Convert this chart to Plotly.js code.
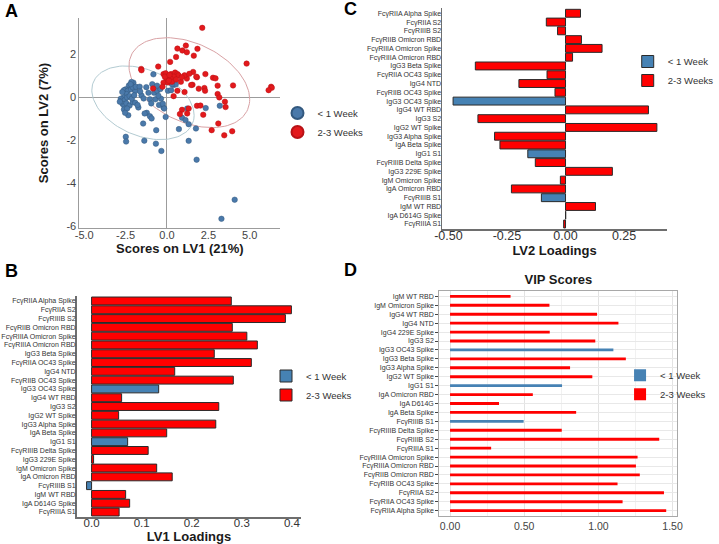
<!DOCTYPE html>
<html><head><meta charset="utf-8">
<script src="https://cdn.plot.ly/plotly-3.0.1.min.js"></script>
<style>html,body{margin:0;padding:0;background:#fff}#chart{width:719px;height:544px}</style>
</head><body><div id="chart"></div>
<script>
// ---------- Panel A: PLS-DA scores ----------
const groupNames = ["< 1 Week", "2-3 Weeks"];
const blueX = [-2.03,-2.15,-2.30,-2.49,-2.60,-2.36,-2.17,-1.92,-2.07,-2.45,-2.64,-2.79,-2.74,-2.55,-2.41,-2.26,-2.68,-2.57,-2.45,-2.26,-2.07,-1.92,-2.60,-2.41,-2.34,-2.53,-1.73,-1.54,-1.88,-1.65,-1.41,-1.12,-0.89,-0.82,-0.78,-0.59,-0.40,-1.03,-0.70,-0.36,-1.22,-1.03,-0.93,-1.44,-0.65,-0.21,-0.08,0.06,0.25,0.40,0.53,1.22,0.91,1.12,1.31,0.72,1.75,1.31,2.34,3.19,-2.49,-2.47,-1.37,-0.67,-0.34,1.79,4.09,3.29,-1.25,-1.62,-1.78,-0.52,-0.48,-0.95,-2.85,-2.70,-2.20,-0.60,0.30,-0.25,-2.12,-1.98,-1.35,-0.17];
const blueY = [0.69,0.72,0.56,0.38,0.34,0.31,0.38,0.30,0.47,0.16,0.00,-0.06,-0.16,-0.13,0.00,0.06,-0.31,-0.39,-0.28,-0.38,-0.22,-0.25,-0.56,-0.52,-0.83,-0.72,-0.47,0.09,0.50,0.50,-0.05,0.22,0.62,1.08,0.22,0.31,0.39,-0.09,-0.09,-0.06,-0.72,-0.88,-0.98,-1.22,-1.53,-0.47,-0.91,0.31,0.34,0.58,0.61,-0.52,-0.95,-1.06,-1.25,-1.48,-1.45,-2.03,-0.50,-0.39,-1.84,-2.06,-2.02,-2.16,-2.50,-2.91,-4.78,-5.67,0.48,0.28,-0.35,0.08,-0.35,-0.28,-0.20,0.25,0.62,0.55,0.62,-0.30,-0.05,0.10,-0.75,-0.52];
const redX = [2.13,4.81,1.14,0.63,0.93,1.20,1.84,1.62,0.55,0.19,-0.53,-1.56,-1.54,1.58,2.32,2.78,2.93,1.81,1.20,1.06,-0.21,-0.08,0.25,0.49,0.63,0.70,0.40,0.21,-0.02,-0.21,0.06,0.30,0.55,0.84,-0.27,-0.84,0.11,-0.13,0.89,1.54,1.92,2.26,2.30,3.06,3.16,3.99,1.06,0.63,0.40,3.50,3.54,1.81,2.02,0.91,0.78,2.19,2.70,3.46,3.94,6.29,6.33,6.14,1.77,1.46,3.06,3.10,1.35,0.15,1.31,1.22];
const redY = [3.25,1.58,2.42,2.28,2.19,2.11,2.27,1.95,1.89,1.66,1.44,1.33,1.27,1.19,1.09,0.92,0.89,0.94,0.88,1.03,1.09,1.13,1.09,1.16,1.09,1.03,0.97,0.89,0.84,0.69,0.70,0.73,0.84,0.73,0.50,0.42,0.78,0.97,0.94,0.59,0.41,0.44,0.31,0.16,0.00,0.56,0.25,0.31,0.06,-0.20,-0.45,-0.39,-0.38,-0.58,-0.78,-0.81,-1.53,-1.77,-1.58,0.50,0.45,0.34,0.97,0.58,0.55,-1.22,1.10,1.05,-0.52,-0.75];
// 95% confidence ellipses (centre and covariance-like spread)
const ellipseBlue = {cx:-1.45, cy:-0.25, sxx:9.55, syy:2.96, sxy:-1.82};
const ellipseRed  = {cx: 1.35, cy: 0.69, sxx:13.3, syy:4.41, sxy:-2.85};

// ---------- Panels B & C: LV loadings ----------
const loadCats = ["FcγRIIA Alpha Spike","FcγRIIA S2","FcγRIIIB S2","FcγRIIB Omicron RBD","FcγRIIIA Omicron Spike","FcγRIIIA Omicron RBD","IgG3 Beta Spike","FcγRIIA OC43 Spike","IgG4 NTD","FcγRIIB OC43 Spike","IgG3 OC43 Spike","IgG4 WT RBD","IgG3 S2","IgG2 WT Spike","IgG3 Alpha Spike","IgA Beta Spike","IgG1 S1","FcγRIIIB Delta Spike","IgG3 229E Spike","IgM Omicron Spike","IgA Omicron RBD","FcγRIIIB S1","IgM WT RBD","IgA D614G Spike","FcγRIIIA S1"];
const lv1 = [0.279,0.399,0.387,0.281,0.310,0.331,0.245,0.319,0.166,0.283,0.134,0.060,0.254,0.054,0.248,0.150,0.072,0.113,0.004,0.130,0.161,-0.010,0.068,0.076,0.055];
const lv2 = [0.064,-0.082,-0.034,0.068,0.156,0.030,-0.385,-0.079,-0.199,-0.045,-0.480,0.354,-0.374,0.390,-0.303,-0.280,-0.161,-0.129,0.200,-0.022,-0.231,-0.103,0.128,0.001,-0.008];
const loadGroup = ["2-3 Weeks","2-3 Weeks","2-3 Weeks","2-3 Weeks","2-3 Weeks","2-3 Weeks","2-3 Weeks","2-3 Weeks","2-3 Weeks","2-3 Weeks","< 1 Week","2-3 Weeks","2-3 Weeks","2-3 Weeks","2-3 Weeks","2-3 Weeks","< 1 Week","2-3 Weeks","2-3 Weeks","2-3 Weeks","2-3 Weeks","< 1 Week","2-3 Weeks","2-3 Weeks","2-3 Weeks"];

// ---------- Panel D: VIP scores ----------
const vipCats = ["IgM WT RBD","IgM Omicron Spike","IgG4 WT RBD","IgG4 NTD","IgG4 229E Spike","IgG3 S2","IgG3 OC43 Spike","IgG3 Beta Spike","IgG3 Alpha Spike","IgG2 WT Spike","IgG1 S1","IgA Omicron RBD","IgA D614G","IgA Beta Spike","FcγRIIIB S1","FcγRIIIB Delta Spike","FcγRIIIB S2","FcγRIIIA S1","FcγRIIIA Omicron Spike","FcγRIIIA Omicron RBD","FcγRIIB Omicron RBD","FcγRIIB OC43 Spike","FcγRIIA S2","FcγRIIA OC43 Spike","FcγRIIA Alpha Spike"];
const vip = [0.408,0.670,0.991,1.135,0.672,0.979,1.101,1.185,0.809,0.959,0.755,0.558,0.330,0.850,0.496,0.753,1.410,0.277,1.264,1.253,1.279,1.129,1.442,1.163,1.457];
const vipGroup = ["2-3 Weeks","2-3 Weeks","2-3 Weeks","2-3 Weeks","2-3 Weeks","2-3 Weeks","< 1 Week","2-3 Weeks","2-3 Weeks","2-3 Weeks","< 1 Week","2-3 Weeks","2-3 Weeks","2-3 Weeks","< 1 Week","2-3 Weeks","2-3 Weeks","2-3 Weeks","2-3 Weeks","2-3 Weeks","2-3 Weeks","2-3 Weeks","2-3 Weeks","2-3 Weeks","2-3 Weeks"];

// ---------- styling ----------
const BLUE = "#4682b4", RED = "#ff0000";
const PT_BLUE = "#4a79aa", PT_RED = "#e3191c";
const W = 719, H = 544;
const px = v => v / W;           // pixel -> paper x
const py = v => 1 - v / H;       // pixel -> paper y
const FONT = "Arial, 'Liberation Sans', sans-serif";

function ellipsePath(p) {
  const a = Math.sqrt(p.sxx), c = p.sxy / a, d = Math.sqrt(p.syy - c * c);
  const xs = [], ys = [];
  for (let i = 0; i <= 120; i++) {
    const t = 2 * Math.PI * i / 120;
    xs.push(p.cx + a * Math.cos(t));
    ys.push(p.cy + c * Math.cos(t) + d * Math.sin(t));
  }
  return {xs, ys};
}
function pick(cats, vals, grp, g) {
  const y = [], x = [];
  cats.forEach((c, i) => { if (grp[i] === g) { y.push(c); x.push(vals[i]); } });
  return {x, y};
}

const eb = ellipsePath(ellipseBlue), er = ellipsePath(ellipseRed);
const traces = [
  {type:"scatter", mode:"lines", x:eb.xs, y:eb.ys, xaxis:"x", yaxis:"y", line:{color:"#b3cbd2", width:1}, showlegend:false, hoverinfo:"skip"},
  {type:"scatter", mode:"lines", x:er.xs, y:er.ys, xaxis:"x", yaxis:"y", line:{color:"#d9a2a5", width:1}, showlegend:false, hoverinfo:"skip"},
  {type:"scatter", mode:"markers", name:groupNames[0], x:blueX, y:blueY, xaxis:"x", yaxis:"y", legend:"legend",
   marker:{color:PT_BLUE, size:5.5, line:{color:"#33597f", width:0.5}}},
  {type:"scatter", mode:"markers", name:groupNames[1], x:redX, y:redY, xaxis:"x", yaxis:"y", legend:"legend",
   marker:{color:PT_RED, size:5.5, line:{color:"#b81216", width:0.5}}}
];
[["x2","y2","legend2",lv1],["x3","y3","legend3",lv2]].forEach(([xa, ya, lg, vals]) => {
  groupNames.forEach((g, k) => {
    const d = pick(loadCats, vals, loadGroup, g);
    traces.push({type:"bar", orientation:"h", name:g, x:d.x, y:d.y, xaxis:xa, yaxis:ya, legend:lg, width:0.9,
      marker:{color:k === 0 ? BLUE : RED, line:{color:"#2a2a2a", width:1}}});
  });
});
groupNames.forEach((g, k) => {
  const d = pick(vipCats, vip, vipGroup, g);
  traces.push({type:"bar", orientation:"h", name:g, x:d.x, y:d.y, xaxis:"x4", yaxis:"y4", legend:"legend4", width:0.32,
    marker:{color:k === 0 ? BLUE : RED, line:{width:0}}});
});

const titleFont = {family:FONT, size:13, color:"#1a1a1a", weight:"bold"};
const catFont = {family:FONT, size:7.0, color:"#333"};
const legFont = {family:FONT, size:9.5, color:"#333"};

const layout = {
  width:W, height:H, margin:{l:0, r:0, t:0, b:0}, paper_bgcolor:"#fff", plot_bgcolor:"rgba(0,0,0,0)",
  font:{family:FONT, color:"#333"}, barmode:"overlay", showlegend:true,
  title:{text:"VIP Scores", font:titleFont, x:px(583.5), y:py(279), xanchor:"center", yanchor:"middle", xref:"paper", yref:"container"},
  // A
  xaxis:{domain:[px(83), px(293)], anchor:"y", range:[-5.29, 6.85], tickmode:"array", tickvals:[-5,-2.5,0,2.5,5], ticktext:["-5.0","-2.5","0.0","2.5","5.0"],
    showgrid:false, zeroline:true, zerolinecolor:"#9c9c9c", zerolinewidth:1, showline:true, linecolor:"#9c9c9c", linewidth:1, ticks:"",
    ticklabelstandoff:-3, tickfont:{size:11, color:"#444"}, title:{text:"Scores on LV1 (21%)", font:titleFont, standoff:3}},
  yaxis:{domain:[py(228), py(18)], anchor:"x", range:[-6.1, 3.71], tickmode:"array", tickvals:[-6,-4,-2,0,2], ticktext:["-6","-4","-2","0","2"],
    showgrid:false, zeroline:true, zerolinecolor:"#9c9c9c", zerolinewidth:1, showline:true, linecolor:"#9c9c9c", linewidth:1, ticks:"",
    tickfont:{size:11, color:"#444"}, title:{text:"Scores on LV2 (7%)", font:titleFont, standoff:14}},
  // B
  xaxis2:{domain:[px(80), px(315)], anchor:"y2", range:[-0.03, 0.419], tickmode:"array", tickvals:[0,0.1,0.2,0.3,0.4], ticktext:["0.0","0.1","0.2","0.3","0.4"],
    showgrid:false, zeroline:false, showline:true, linecolor:"#6e6e6e", linewidth:1.5, ticks:"", ticklabelstandoff:-6, tickfont:{size:11.5, color:"#333"},
    title:{text:"LV1 Loadings", font:titleFont, standoff:2}},
  yaxis2:{domain:[py(517.3), py(295.7)], anchor:"x2", type:"category", categoryorder:"array", categoryarray:loadCats, range:[24.6, -0.6],
    tickmode:"array", tickvals:loadCats, ticktext:loadCats, ticklabelstandoff:-2,
    showgrid:false, zeroline:false, showline:true, linecolor:"#6e6e6e", linewidth:1.5, ticks:"", tickfont:catFont},
  // C
  xaxis3:{domain:[px(462), px(697)], anchor:"y3", range:[-0.527, 0.433], tickmode:"array", tickvals:[-0.5,-0.25,0,0.25], ticktext:["-0.50","-0.25","0.00","0.25"],
    showgrid:false, zeroline:false, showline:true, linecolor:"#6e6e6e", linewidth:1.5, ticks:"", ticklabelstandoff:-6, tickfont:{size:12.5, color:"#333"},
    title:{text:"LV2 Loadings", font:titleFont, standoff:4}},
  yaxis3:{domain:[py(229.3), py(8)], anchor:"x3", type:"category", categoryorder:"array", categoryarray:loadCats, range:[24.6, -0.6],
    tickmode:"array", tickvals:loadCats, ticktext:loadCats, ticklabelstandoff:-2,
    showgrid:false, zeroline:false, showline:true, linecolor:"#6e6e6e", linewidth:1.5, ticks:"", tickfont:catFont},
  // D
  xaxis4:{domain:[px(459), px(708)], anchor:"y4", range:[-0.073, 1.533], tick0:0, dtick:0.5, tickformat:".2f",
    showgrid:true, gridcolor:"#e3e3e3", gridwidth:1, minor:{dtick:0.25, tick0:0, showgrid:true, gridcolor:"#f1f1f1", gridwidth:1},
    zeroline:false, showline:true, mirror:true, linecolor:"#a8a8a8", linewidth:1, ticks:"", tickfont:{size:10.5, color:"#444"}},
  yaxis4:{domain:[py(516), py(291)], anchor:"x4", type:"category", categoryorder:"array", categoryarray:vipCats, range:[24.6, -0.6],
    tickmode:"array", tickvals:vipCats, ticktext:vipCats,
    showgrid:true, gridcolor:"#e8e8e8", gridwidth:1, zeroline:false, showline:true, mirror:true, linecolor:"#a8a8a8", linewidth:1,
    ticks:"outside", ticklen:3, tickcolor:"#444", tickwidth:1, tickfont:catFont},
  legend:{x:px(290), y:py(122.5), xanchor:"left", yanchor:"middle", font:legFont, bgcolor:"rgba(0,0,0,0)", itemsizing:"constant"},
  legend2:{x:px(278), y:py(385.5), xanchor:"left", yanchor:"middle", font:legFont, bgcolor:"rgba(0,0,0,0)"},
  legend3:{x:px(656), y:py(71), xanchor:"left", yanchor:"middle", font:legFont, bgcolor:"rgba(0,0,0,0)"},
  legend4:{x:px(648), y:py(384.7), xanchor:"left", yanchor:"middle", font:legFont, bgcolor:"rgba(0,0,0,0)"},
  annotations:[
    {text:"A", x:px(12), y:py(11), xref:"paper", yref:"paper", showarrow:false, xanchor:"center", yanchor:"middle", font:{family:FONT, size:18, color:"#000", weight:"bold"}},
    {text:"B", x:px(12), y:py(271), xref:"paper", yref:"paper", showarrow:false, xanchor:"center", yanchor:"middle", font:{family:FONT, size:18, color:"#000", weight:"bold"}},
    {text:"C", x:px(366), y:py(9), xref:"paper", yref:"paper", showarrow:false, xanchor:"center", yanchor:"middle", font:{family:FONT, size:18, color:"#000", weight:"bold"}},
    {text:"D", x:px(366), y:py(270), xref:"paper", yref:"paper", showarrow:false, xanchor:"center", yanchor:"middle", font:{family:FONT, size:18, color:"#000", weight:"bold"}}
  ]
};
Plotly.newPlot("chart", traces, layout, {staticPlot:true, displayModeBar:false});
</script></body></html>
